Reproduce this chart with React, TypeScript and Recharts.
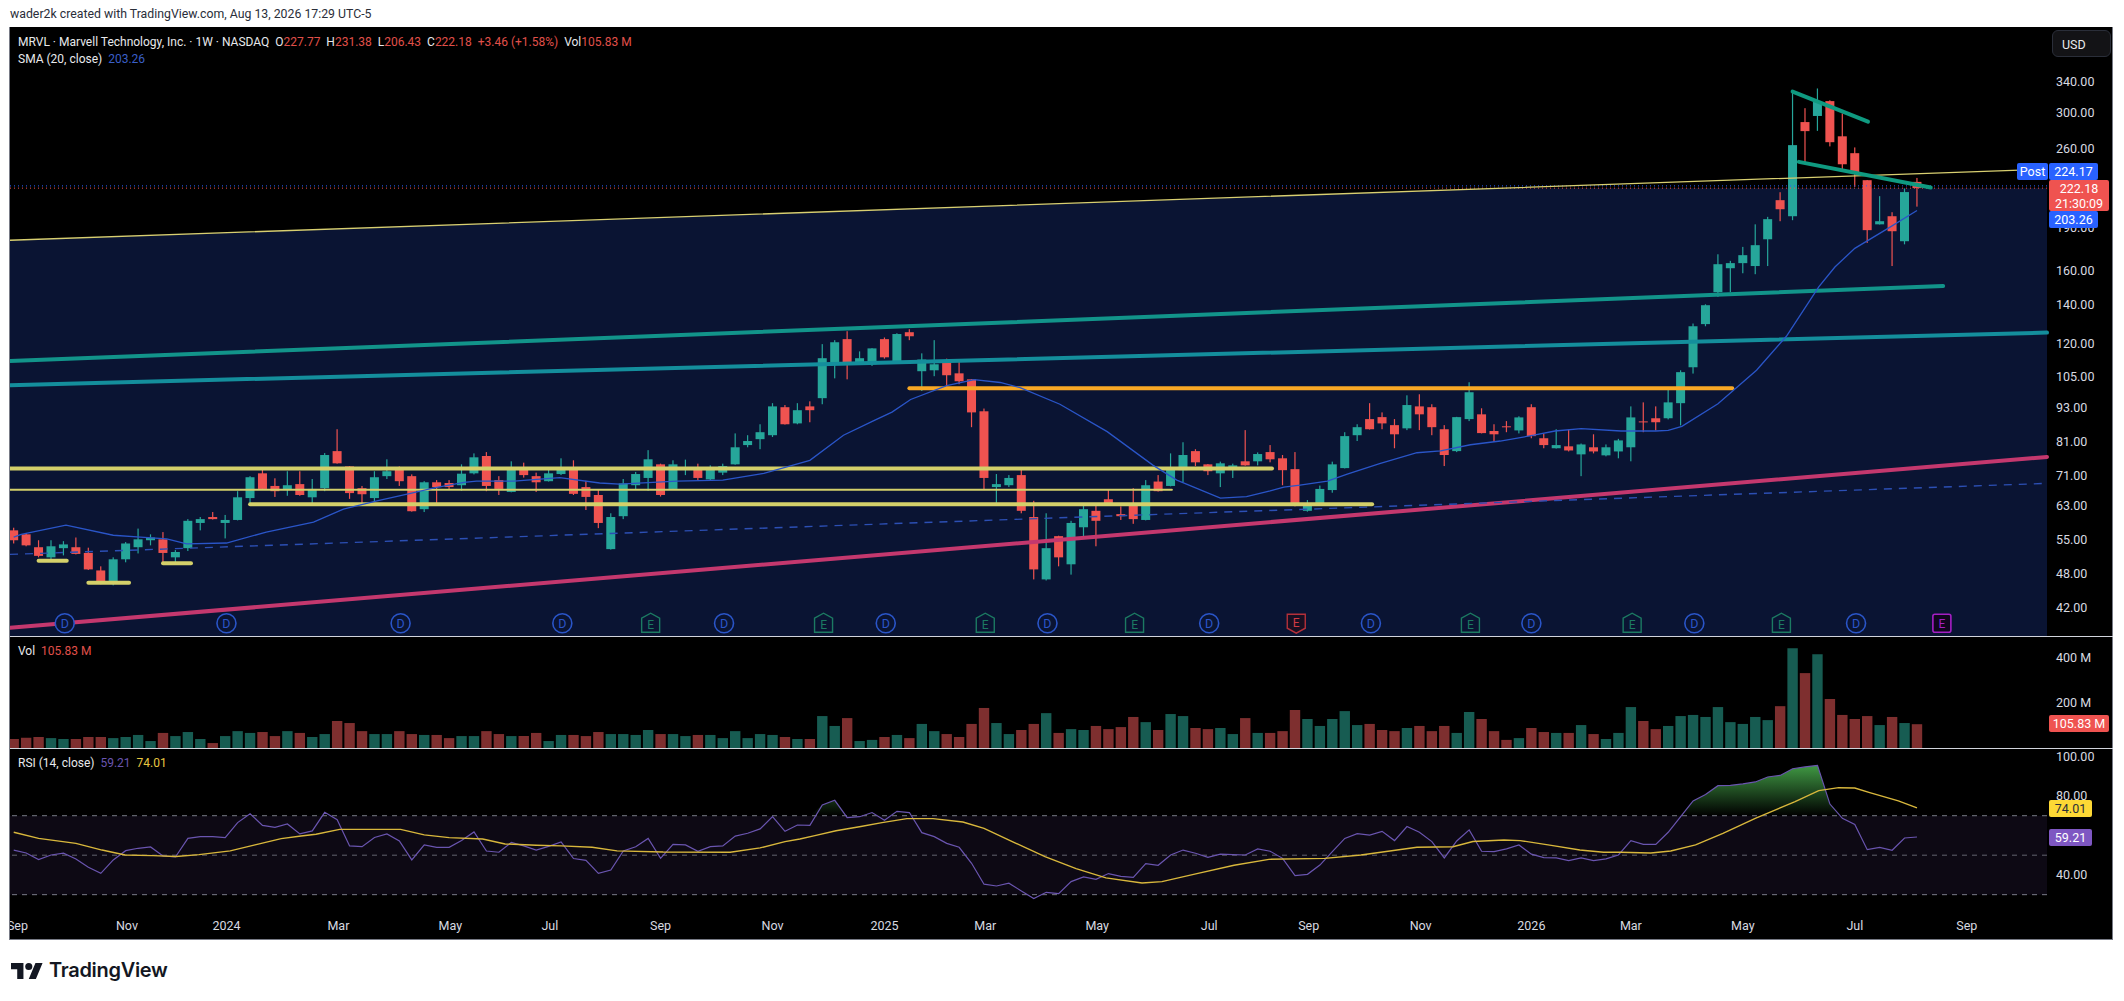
import { Area, Bar, Cell, ComposedChart, Line, ReferenceArea, ReferenceDot, ReferenceLine, XAxis, YAxis } from 'recharts';

const opens = [
    57.0, 56.1, 53.3, 51.2, 53.1, 53.3, 52.1, 48.6, 46.3, 50.8,
    53.3, 54.8, 55.0, 51.2, 53.1, 58.7, 60.1, 58.7, 59.4, 64.8,
    71.5, 68.0, 66.9, 68.5, 65.0, 67.4, 78.1, 73.5, 67.4, 64.8,
    70.7, 72.7, 70.7, 62.0, 69.0, 68.8, 68.2, 71.5, 76.6, 69.6,
    66.4, 73.0, 70.7, 69.3, 71.3, 73.3, 67.7, 65.6, 52.9, 60.3,
    68.2, 70.2, 74.1, 67.2, 72.9, 73.3, 69.8, 71.7, 74.1, 80.0,
    81.9, 83.2, 93.0, 87.2, 93.3, 96.4, 111.2, 121.9, 111.2, 110.3,
    121.9, 111.2, 125.3, 107.3, 107.7, 111.2, 106.4, 103.9, 91.5, 67.7,
    68.2, 71.0, 60.1, 46.9, 55.7, 49.8, 57.7, 61.6, 64.5, 60.8,
    62.9, 59.4, 69.2, 68.0, 72.4, 78.1, 74.1, 71.5, 73.1, 75.0,
    75.0, 77.8, 75.9, 72.7, 61.6, 63.3, 66.9, 73.0, 83.2, 88.7,
    89.4, 86.6, 85.5, 93.3, 93.0, 85.2, 78.1, 88.7, 90.4, 84.6,
    86.2, 84.8, 93.0, 82.2, 79.0, 79.6, 77.1, 79.3, 76.8, 78.0,
    79.3, 87.9, 89.0, 89.0, 94.5, 109.0, 129.4, 146.9, 161.6, 164.9,
    163.0, 181.3, 211.8, 198.7, 288.9, 296.0, 314.0, 273.0, 255.3, 229.3,
    192.4, 198.7, 179.9, 227.77,
];
const highs = [
    57.6, 56.4, 54.8, 54.8, 54.6, 55.4, 53.2, 49.4, 51.2, 54.4,
    57.4, 56.1, 56.6, 52.7, 59.6, 60.1, 61.3, 60.6, 66.6, 70.7,
    73.0, 70.1, 72.1, 72.1, 69.9, 77.5, 85.2, 73.6, 68.0, 72.1,
    75.6, 73.5, 71.2, 69.3, 69.6, 69.6, 74.1, 77.4, 77.8, 70.7,
    75.0, 74.6, 71.7, 72.7, 75.9, 75.3, 69.4, 66.9, 61.0, 69.9,
    71.9, 78.4, 74.3, 75.3, 75.5, 74.3, 73.8, 74.3, 83.8, 83.2,
    86.9, 94.5, 93.8, 94.5, 95.2, 119.5, 121.4, 125.8, 116.1, 117.6,
    122.7, 124.8, 126.8, 115.2, 121.4, 112.8, 111.8, 104.0, 92.5, 71.3,
    71.0, 72.9, 64.1, 61.0, 55.8, 59.2, 63.3, 62.9, 66.9, 62.7,
    67.4, 69.6, 71.0, 77.4, 80.9, 78.7, 74.2, 74.9, 74.3, 84.9,
    77.7, 80.0, 76.9, 77.8, 64.3, 68.1, 74.9, 84.2, 86.9, 94.5,
    91.1, 88.7, 97.5, 97.9, 94.1, 86.6, 89.5, 102.7, 92.6, 86.9,
    88.0, 89.7, 94.1, 83.7, 85.2, 85.1, 80.5, 83.5, 80.2, 82.0,
    93.3, 94.8, 93.3, 100.7, 107.7, 129.7, 140.0, 170.8, 166.4, 175.9,
    192.4, 198.2, 218.6, 324.6, 305.3, 330.2, 315.0, 299.0, 261.2, 229.5,
    215.2, 201.9, 221.9, 231.38,
];
const lows = [
    54.1, 53.5, 51.2, 50.6, 51.6, 51.8, 48.7, 46.0, 45.8, 50.2,
    52.0, 53.7, 50.2, 50.0, 52.5, 57.0, 59.5, 55.2, 59.3, 62.8,
    67.1, 65.1, 65.4, 65.4, 63.0, 66.6, 74.3, 64.6, 63.3, 63.8,
    69.9, 68.0, 61.4, 61.3, 62.8, 66.9, 66.7, 71.2, 66.6, 65.6,
    66.3, 70.3, 66.4, 69.2, 71.0, 65.6, 61.8, 57.5, 52.8, 59.6,
    67.1, 66.7, 65.2, 67.1, 71.0, 69.6, 69.6, 71.0, 74.0, 79.3,
    78.7, 82.6, 86.8, 86.9, 87.6, 94.1, 104.3, 103.9, 110.7, 109.6,
    112.8, 111.1, 121.4, 99.2, 105.2, 99.9, 101.9, 85.9, 66.9, 63.3,
    67.7, 61.0, 46.9, 46.7, 49.4, 47.8, 55.7, 53.5, 63.2, 59.4,
    58.5, 59.3, 66.5, 67.9, 69.0, 73.6, 71.0, 67.7, 70.2, 73.7,
    73.8, 74.7, 68.2, 62.7, 61.4, 62.9, 66.2, 72.9, 81.3, 85.1,
    85.2, 79.0, 84.9, 84.9, 83.2, 73.6, 77.8, 88.0, 83.8, 81.0,
    84.2, 83.8, 82.2, 79.0, 78.9, 78.0, 70.7, 77.4, 76.5, 75.9,
    75.0, 84.2, 84.8, 88.6, 86.5, 106.3, 128.3, 144.2, 146.9, 158.4,
    157.8, 163.0, 194.8, 195.6, 246.3, 279.0, 262.3, 237.7, 223.3, 178.7,
    192.3, 163.0, 177.7, 206.43,
];
const closes = [
    54.8, 53.7, 51.5, 53.5, 53.9, 51.9, 48.8, 46.5, 50.8, 54.1,
    55.0, 55.4, 52.1, 52.3, 59.2, 59.6, 59.6, 59.4, 65.0, 70.4,
    67.2, 66.6, 68.2, 65.6, 67.2, 76.9, 74.4, 66.1, 65.8, 70.4,
    72.1, 69.3, 61.5, 69.0, 67.7, 67.7, 71.4, 76.2, 68.0, 67.2,
    72.7, 71.0, 69.0, 71.5, 73.3, 65.9, 65.1, 58.7, 60.1, 68.7,
    71.3, 75.6, 65.6, 74.1, 73.2, 70.2, 73.0, 73.6, 79.3, 81.3,
    84.2, 93.3, 86.9, 91.9, 91.9, 113.0, 120.4, 110.8, 113.0, 117.5,
    113.4, 124.4, 123.3, 112.4, 110.3, 105.6, 103.1, 91.1, 70.2, 68.5,
    70.2, 61.6, 48.8, 53.1, 51.2, 58.7, 62.0, 59.2, 63.3, 60.3,
    59.6, 68.2, 66.6, 73.3, 76.9, 74.7, 72.1, 74.4, 73.8, 73.8,
    77.2, 75.6, 72.4, 62.9, 63.1, 67.2, 74.1, 82.9, 85.9, 85.2,
    87.2, 83.5, 93.8, 90.4, 85.9, 76.9, 89.4, 98.7, 83.9, 83.5,
    85.9, 89.3, 82.9, 80.0, 80.0, 78.3, 80.2, 78.0, 79.3, 81.5,
    89.3, 87.6, 87.6, 94.8, 106.9, 128.3, 139.5, 164.2, 164.9, 170.2,
    177.1, 196.4, 204.3, 263.6, 278.7, 313.1, 266.7, 244.3, 235.8, 188.0,
    194.8, 187.2, 218.72, 222.18,
];
const volumes = [
    40, 46, 49, 44, 40, 40, 49, 49, 44, 49,
    58, 31, 67, 53, 71, 40, 22, 53, 75, 67,
    71, 53, 75, 67, 49, 62, 120, 111, 75, 62,
    62, 75, 62, 58, 58, 44, 53, 53, 75, 62,
    53, 53, 67, 31, 58, 58, 53, 71, 62, 62,
    58, 80, 62, 62, 53, 58, 58, 44, 75, 44,
    62, 58, 49, 40, 40, 142, 98, 133, 31, 36,
    49, 58, 44, 107, 75, 62, 49, 107, 178, 111,
    62, 80, 107, 155, 67, 84, 80, 98, 84, 93,
    138, 115, 80, 151, 142, 89, 84, 89, 62, 133,
    67, 67, 75, 169, 129, 98, 129, 164, 102, 107,
    80, 75, 89, 98, 75, 98, 67, 160, 129, 75,
    36, 44, 89, 71, 67, 67, 102, 62, 40, 67,
    182, 120, 84, 98, 142, 147, 138, 182, 115, 107,
    138, 124, 186, 444, 333, 417, 218, 147, 129, 142,
    102, 138, 111, 105.83,
];
const rsiValues = [
    52.6, 51.1, 47.8, 50.1, 51.0, 48.1, 43.9, 40.8, 47.6, 52.3,
    53.5, 54.2, 49.6, 49.1, 58.5, 59.4, 59.4, 58.9, 66.5, 71.0,
    65.1, 64.1, 65.8, 60.8, 62.3, 71.7, 68.0, 54.7, 54.3, 59.0,
    60.8, 57.2, 47.6, 55.2, 54.0, 54.0, 57.4, 61.8, 52.1, 51.5,
    56.5, 54.7, 52.6, 54.5, 56.7, 48.3, 47.4, 40.8, 42.5, 52.1,
    54.3, 58.5, 48.4, 55.5, 55.2, 52.0, 54.3, 54.7, 59.7, 61.1,
    63.3, 69.5, 62.1, 65.3, 65.1, 75.4, 77.8, 69.0, 69.5, 71.6,
    67.7, 72.2, 71.6, 61.4, 59.4, 56.0, 54.0, 45.9, 35.3, 34.4,
    35.8, 31.9, 28.0, 31.2, 30.5, 36.6, 39.0, 37.8, 40.7, 39.3,
    38.8, 45.7, 44.9, 50.1, 52.6, 51.0, 48.9, 50.5, 50.3, 50.1,
    53.2, 52.0, 48.4, 39.6, 40.3, 45.0, 51.8, 58.5, 60.9, 60.2,
    62.1, 57.4, 64.5, 61.6, 56.9, 48.6, 57.2, 62.8, 52.0, 51.8,
    53.2, 55.2, 50.5, 48.8, 48.6, 47.3, 48.6, 47.3, 48.1, 50.1,
    57.4, 55.5, 55.5, 61.6, 69.5, 77.5, 80.7, 85.2, 85.4, 86.1,
    87.1, 89.6, 90.4, 93.8, 94.7, 95.5, 75.9, 68.7, 65.6, 52.8,
    54.0, 52.5, 58.7, 59.21,
];

// week index, value pairs read at the bends of the smoothed lines
const smaWeeks = [
    0, 0.6, 4.2, 8, 10.2, 12.3, 13.9, 17.1, 20.3, 24.1, 26.5, 29.2, 31.9, 33.8, 36.2, 37.2, 40.2, 43.9, 47.1, 48.7,
    53.3, 57, 60.3, 64, 66.7, 69.1, 70.6, 72.1, 75, 77.2, 79.3, 80.9, 84.1, 87.9, 91.6, 93.5, 97, 99.1, 101, 102.1,
    103.4, 105.6, 107.2, 109.8, 112.8, 114.7, 117.1, 119.5, 122.2, 123.9, 126, 129.2, 132, 133, 134.1, 137, 140.1, 142.5, 145.1, 146.4,
    148, 150.7, 153,
];
const smaValues = [
    55.5, 56.1, 58.2, 55.9, 55.5, 55.1, 54.0, 54.2, 56.6, 58.9, 62.0, 64.1, 66.0, 67.5, 69.0, 69.3, 69.3, 70.3, 68.8, 68.5,
    69.3, 69.6, 71.5, 75.3, 83.2, 88.1, 91.2, 95.9, 101.3, 103.8, 102.6, 100.5, 94.1, 84.4, 73.8, 69.6, 64.8, 65.2, 66.7, 67.7,
    68.2, 69.3, 71.3, 74.3, 77.6, 78.2, 80.1, 81.3, 83.2, 84.6, 85.4, 84.6, 84.6, 84.8, 86.2, 94.3, 107.7, 123.3, 150, 162.4,
    174.9, 189.5, 203.26,
];
const rsiMaWeeks = [
    0, 2, 5, 7.1, 8.95, 11.2, 13.05, 14.9, 17.4, 19.4, 21.5, 23.1, 24.3, 26.2, 27.6, 31.1, 33, 35, 37.7, 39.5,
    42, 44, 46.5, 48.5, 52.2, 57.6, 60, 62, 63.2, 64.4, 66.1, 68.1, 69.8, 71.8, 73.9, 76.3, 78, 80.4, 82.9, 85.4,
    87.8, 90.7, 92.3, 95.2, 98.1, 100.9, 105.4, 108.3, 112.8, 115.7, 117.3, 119.8, 121.1, 123.6, 125.9, 127.8, 129.1, 131.6, 133.2, 135.2,
    137.4, 140, 143.2, 145.1, 146.7, 148, 149.2, 151.5, 153,
];
const rsiMaValues = [
    61.6, 58.5, 56.0, 52.6, 50.1, 49.8, 49.3, 50.3, 52.2, 55.2, 58.4, 59.7, 60.6, 63.1, 63.1, 63.1, 60.3, 58.9, 58.2, 55.7,
    55.0, 54.7, 54.0, 52.2, 51.6, 51.5, 53.7, 56.9, 58.2, 59.9, 62.4, 64.5, 66.5, 68.5, 68.5, 66.8, 63.6, 56.5, 49.3, 43.2,
    38.5, 35.9, 36.6, 40.8, 44.9, 47.9, 48.4, 50.1, 54.0, 54.3, 56.9, 57.7, 57.4, 55.0, 52.6, 51.5, 51.5, 51.1, 52.1, 55.2,
    61.1, 68.7, 77.1, 82.7, 84.2, 84.0, 81.7, 77.5, 74.01,
];

const priceTicks = [340, 300, 260, 190, 160, 140, 120, 105, 93, 81, 71, 63, 55, 48, 42];
const volumeTicks = [400, 200];
const rsiTicks = [100, 80, 40];
const monthWeeks = [0.3, 9.1, 17.1, 26.1, 35.1, 43.1, 52, 61, 70, 78.1, 87.1, 96.1, 104.1, 113.1, 122, 130, 139, 148, 157];
const monthLabels = ['Sep', 'Nov', '2024', 'Mar', 'May', 'Jul', 'Sep', 'Nov', '2025', 'Mar', 'May', 'Jul', 'Sep', 'Nov', '2026', 'Mar', 'May', 'Jul', 'Sep'];

const dividendWeeks = [4.1, 17.1, 31.1, 44.1, 57.1, 70.1, 83.1, 96.1, 109.1, 122, 135.1, 148.1];
const earningsWeeks = [51.2, 65.1, 78.1, 90.1, 117.1, 130.1, 142.1];
const missedEarningsWeeks = [103.1];
const nextEarningsWeeks = [155];
const markerPrice = 39.4;

// [week, price, week, price]
const channelTop = [-0.3, 180.6, 163.45, 239.6];
const tealUpper = [-0.3, 111.7, 155.1, 150.6];
const tealLower = [-0.3, 101.5, 163.45, 125.1];
const pinkTrend = [-0.3, 38.7, 163.45, 76.3];
const dashedTrend = [-0.3, 51.8, 163.45, 68.7];
const yellowThinLevel = [-0.3, 67.0, 93.1, 67.0];
const yellowLevels = [
    [-0.3, 72.9, 101.15, 72.9],
    [19.0, 63.2, 109.2, 63.2],
    [2.0, 50.5, 4.26, 50.5],
    [6.0, 46.3, 9.27, 46.3],
    [12.0, 50.0, 14.25, 50.0],
];
const orangeLevel = [72.0, 100.3, 138.15, 100.3];
const peakUpper = [143, 326.2, 149.06, 289.3];
const peakLower = [143.5, 246.6, 154.1, 222.7];

const weekDomain = [-0.3, 163.45];
const priceDomain = [37.45, 421.6];
const navyTopWeeks = [-0.3, 119.8, 163.45];
const navyTopPrices = [180.6, 222.18, 222.18];

const candles = opens.map((open, i) => ({
    week: i,
    open,
    high: highs[i],
    low: lows[i],
    close: closes[i],
    range: [lows[i], highs[i]],
    up: closes[i] >= open,
    volume: volumes[i],
    rsi: rsiValues[i],
    overbought: [70, Math.max(70, rsiValues[i])],
}));
const smaLine = smaWeeks.map((week, i) => ({ week, value: smaValues[i] }));
const rsiMaLine = rsiMaWeeks.map((week, i) => ({ week, value: rsiMaValues[i] }));
const navyBand = navyTopWeeks.map((week, i) => ({ week, band: [priceDomain[0], navyTopPrices[i]] }));

const GREEN = '#26a69a';
const RED = '#ef5350';
const FONT = 'Roboto, sans-serif';
const PANE_WIDTH = 2103;
const AXIS_WIDTH = 66;
const BODY_WIDTH = 9;
const axisTick = { fill: '#d8dae0', fontSize: 12.5, fontFamily: FONT };

const trend = (seg: number[], stroke: string, strokeWidth: number, key: string, dash?: string) => (
    <ReferenceLine
        key={key}
        segment={[{ x: seg[0], y: seg[1] }, { x: seg[2], y: seg[3] }]}
        stroke={stroke}
        strokeWidth={strokeWidth}
        strokeDasharray={dash}
        strokeLinecap={dash ? 'butt' : 'round'}
        ifOverflow="visible"
    />
);

// the bar covers low..high on the log axis, the body is placed inside that span.
// width from recharts shrinks because the SMA weeks are fractional, so only its centre is used
const CandleShape = ({ x, y, width, height, payload }: any) => {
    const { open, high, low, close, up } = payload;
    const span = Math.log(high / low);
    const atPrice = (p: number) => y + (height * Math.log(high / p)) / span;
    const top = atPrice(Math.max(open, close));
    const bottom = atPrice(Math.min(open, close));
    const centre = x + width / 2;
    const fill = up ? GREEN : RED;
    return (
        <g>
            <rect x={centre - 0.6} y={y} width={1.2} height={height} fill={fill} />
            <rect x={centre - BODY_WIDTH / 2} y={top} width={BODY_WIDTH} height={Math.max(bottom - top, 1)} fill={fill} />
        </g>
    );
};

const CircleMark = ({ cx, cy }: any) => (
    <g>
        <circle cx={cx} cy={cy} r={9.5} fill="#0a1433" stroke="#2a55c8" strokeWidth={1.6} />
        <text x={cx} y={cy + 4.5} textAnchor="middle" fontSize={12.5} fontFamily={FONT} fill="#2a55c8">D</text>
    </g>
);
const HouseMark = ({ cx, cy }: any) => (
    <g>
        <path d={`M${cx - 9} ${cy - 5}L${cx} ${cy - 10}L${cx + 9} ${cy - 5}V${cy + 9}H${cx - 9}Z`} fill="#0a1433" stroke="#1c7a62" strokeWidth={1.4} />
        <text x={cx} y={cy + 6} textAnchor="middle" fontSize={12} fontFamily={FONT} fill="#1c7a62">E</text>
    </g>
);
const MissMark = ({ cx, cy }: any) => (
    <g>
        <path d={`M${cx - 9} ${cy - 9}H${cx + 9}V${cy + 5}L${cx} ${cy + 10}L${cx - 9} ${cy + 5}Z`} fill="#1a0f22" stroke="#b5303a" strokeWidth={1.4} />
        <text x={cx} y={cy + 4} textAnchor="middle" fontSize={12} fontFamily={FONT} fill="#d23a44">E</text>
    </g>
);
const NextMark = ({ cx, cy }: any) => (
    <g>
        <rect x={cx - 9} y={cy - 9} width={18} height={18} rx={2} fill="#10061e" stroke="#a41fc4" strokeWidth={1.6} />
        <text x={cx} y={cy + 4.5} textAnchor="middle" fontSize={12} fontFamily={FONT} fill="#a41fc4">E</text>
    </g>
);

const PriceTag = ({ top, left = 2049, width, height = 17, bg, color = '#fff', children }: any) => (
    <div style={{ position: 'absolute', top, left, width, height, lineHeight: `${height}px`, background: bg, color, fontFamily: FONT, fontSize: 12.5, textAlign: 'center', borderRadius: 2 }}>
        {children}
    </div>
);

const redVal = { color: '#e0504a' };

const App = () => (
    <div style={{ position: 'absolute', left: 0, top: 0, width: 2124, height: 1001, background: '#fff', overflow: 'hidden' }}>
        <div style={{ position: 'absolute', left: 10, top: 7, fontFamily: FONT, fontSize: 12.3, color: '#2a2e39', whiteSpace: 'nowrap' }}>
            wader2k created with TradingView.com, Aug 13, 2026 17:29 UTC-5
        </div>
        <div style={{ position: 'absolute', left: 9, top: 27, width: 2104, height: 913, background: '#000', borderLeft: '1px solid #787b86', borderRight: '1px solid #787b86', borderBottom: '1px solid #787b86', boxSizing: 'border-box' }} />

        <div style={{ position: 'absolute', left: 10, top: 27 }}>
            <ComposedChart width={PANE_WIDTH} height={609} data={candles} margin={{ top: 0, right: 0, bottom: 0, left: 0 }}>
                <XAxis type="number" dataKey="week" domain={weekDomain} allowDataOverflow hide />
                <YAxis orientation="right" width={AXIS_WIDTH} scale="log" domain={priceDomain} allowDataOverflow ticks={priceTicks} interval={0} tick={axisTick} tickSize={0} tickMargin={9} axisLine={false} tickLine={false} tickFormatter={(v: number) => v.toFixed(2)} />
                <Area data={navyBand} dataKey="band" type="linear" fill="#0a1433" fillOpacity={1} stroke="none" dot={false} activeDot={false} isAnimationActive={false} />
                {trend(tealUpper, '#12948a', 4, 'tealUpper')}
                {trend(tealLower, '#148e9c', 4, 'tealLower')}
                {trend(pinkTrend, '#c4386e', 4, 'pink')}
                {trend(dashedTrend, '#2c4fb4', 1.4, 'dashed', '8 7')}
                {trend(yellowThinLevel, '#d4d06a', 2, 'yellowThin')}
                {yellowLevels.map((seg, i) => trend(seg, '#d4d06a', 4, `yellow${i}`))}
                {trend(orangeLevel, '#f9a825', 4, 'orange')}
                <ReferenceLine y={224.17} stroke="#2962ff" strokeDasharray="1 3" ifOverflow="visible" />
                <ReferenceLine y={222.18} stroke="#ef5350" strokeDasharray="1 3" ifOverflow="visible" />
                {trend(channelTop, '#d8cf70', 1.3, 'channelTop')}
                <Bar dataKey="range" barSize={BODY_WIDTH} shape={CandleShape} isAnimationActive={false} />
                {trend(peakUpper, '#0f9a80', 4, 'peakUpper')}
                {trend(peakLower, '#0f9a80', 4, 'peakLower')}
                <Line data={smaLine} dataKey="value" type="linear" stroke="#2a55c8" strokeWidth={1.3} dot={false} activeDot={false} isAnimationActive={false} />
                {dividendWeeks.map((w) => <ReferenceDot key={`d${w}`} x={w} y={markerPrice} shape={CircleMark} ifOverflow="visible" />)}
                {earningsWeeks.map((w) => <ReferenceDot key={`e${w}`} x={w} y={markerPrice} shape={HouseMark} ifOverflow="visible" />)}
                {missedEarningsWeeks.map((w) => <ReferenceDot key={`m${w}`} x={w} y={markerPrice} shape={MissMark} ifOverflow="visible" />)}
                {nextEarningsWeeks.map((w) => <ReferenceDot key={`n${w}`} x={w} y={markerPrice} shape={NextMark} ifOverflow="visible" />)}
            </ComposedChart>
        </div>

        <div style={{ position: 'absolute', left: 10, top: 636 }}>
            <ComposedChart width={PANE_WIDTH} height={112} data={candles} margin={{ top: 0, right: 0, bottom: 0, left: 0 }}>
                <XAxis type="number" dataKey="week" domain={weekDomain} allowDataOverflow hide />
                <YAxis orientation="right" width={AXIS_WIDTH} domain={[0, 498]} allowDataOverflow ticks={volumeTicks} interval={0} tick={axisTick} tickSize={0} tickMargin={9} axisLine={false} tickLine={false} tickFormatter={(v: number) => `${v} M`} />
                <Bar dataKey="volume" barSize={10.4} isAnimationActive={false}>
                    {candles.map((c) => <Cell key={c.week} fill={c.up ? '#175c52' : '#7e2f2f'} />)}
                </Bar>
            </ComposedChart>
        </div>

        <div style={{ position: 'absolute', left: 10, top: 748 }}>
            <ComposedChart width={PANE_WIDTH} height={192} data={candles} margin={{ top: 0, right: 0, bottom: 0, left: 0 }}>
                <defs>
                    <linearGradient id="overboughtFill" x1="0" y1="0" x2="0" y2="1">
                        <stop offset="0%" stopColor="#43a047" stopOpacity={0.95} />
                        <stop offset="100%" stopColor="#43a047" stopOpacity={0} />
                    </linearGradient>
                </defs>
                <XAxis type="number" dataKey="week" domain={weekDomain} allowDataOverflow height={25} ticks={monthWeeks} interval={0} tick={axisTick} tickSize={0} tickMargin={6} axisLine={false} tickLine={false} tickFormatter={(v: number) => monthLabels[monthWeeks.indexOf(v)]} />
                <YAxis orientation="right" width={AXIS_WIDTH} domain={[19.7, 104.3]} allowDataOverflow ticks={rsiTicks} interval={0} tick={axisTick} tickSize={0} tickMargin={9} axisLine={false} tickLine={false} tickFormatter={(v: number) => v.toFixed(2)} />
                <ReferenceArea y1={30} y2={70} fill="#7e57c2" fillOpacity={0.1} stroke="none" ifOverflow="visible" />
                <ReferenceLine y={70} stroke="#787b86" strokeDasharray="5 5" />
                <ReferenceLine y={50} stroke="#787b86" strokeOpacity={0.8} strokeDasharray="5 5" />
                <ReferenceLine y={30} stroke="#787b86" strokeDasharray="5 5" />
                <Area dataKey="overbought" type="linear" fill="url(#overboughtFill)" fillOpacity={1} stroke="none" dot={false} activeDot={false} isAnimationActive={false} />
                <Line dataKey="rsi" type="linear" stroke="#6a55b0" strokeWidth={1.2} dot={false} activeDot={false} isAnimationActive={false} />
                <Line data={rsiMaLine} dataKey="value" type="linear" stroke="#d8b73c" strokeWidth={1.4} dot={false} activeDot={false} isAnimationActive={false} />
            </ComposedChart>
        </div>

        <div style={{ position: 'absolute', left: 10, top: 636, width: 2103, height: 1, background: '#d1d4dc' }} />
        <div style={{ position: 'absolute', left: 10, top: 748, width: 2103, height: 1, background: '#d1d4dc' }} />

        <div style={{ position: 'absolute', left: 18, top: 35, fontFamily: FONT, fontSize: 12, color: '#e8e9ec', whiteSpace: 'nowrap' }}>
            MRVL · Marvell Technology, Inc. · 1W · NASDAQ&nbsp; O<span style={redVal}>227.77</span>&nbsp; H<span style={redVal}>231.38</span>&nbsp; L<span style={redVal}>206.43</span>&nbsp; C<span style={redVal}>222.18</span>&nbsp; <span style={redVal}>+3.46 (+1.58%)</span>&nbsp; Vol<span style={redVal}>105.83 M</span>
        </div>
        <div style={{ position: 'absolute', left: 18, top: 52, fontFamily: FONT, fontSize: 12, color: '#e8e9ec', whiteSpace: 'nowrap' }}>
            SMA (20, close)&nbsp; <span style={{ color: '#3a5fc8' }}>203.26</span>
        </div>
        <div style={{ position: 'absolute', left: 18, top: 644, fontFamily: FONT, fontSize: 12, color: '#e8e9ec', whiteSpace: 'nowrap' }}>
            Vol&nbsp; <span style={redVal}>105.83 M</span>
        </div>
        <div style={{ position: 'absolute', left: 18, top: 756, fontFamily: FONT, fontSize: 12, color: '#e8e9ec', whiteSpace: 'nowrap' }}>
            RSI (14, close)&nbsp; <span style={{ color: '#6a55b0' }}>59.21</span>&nbsp; <span style={{ color: '#e8c640' }}>74.01</span>
        </div>

        <div style={{ position: 'absolute', left: 2052, top: 30, width: 59, height: 27, lineHeight: '27px', boxSizing: 'border-box', border: '1px solid #2a2e39', borderRadius: 6, background: '#131316', color: '#e8e9ec', fontFamily: FONT, fontSize: 12.5, paddingLeft: 9 }}>USD</div>

        <PriceTag top={163} left={2017} width={31} bg="#2962ff">Post</PriceTag>
        <PriceTag top={163} width={49} bg="#2962ff">224.17</PriceTag>
        <PriceTag top={180} width={60} height={31} bg="#ef5350">
            <div style={{ lineHeight: '15px', paddingTop: 1 }}>222.18<br />21:30:09</div>
        </PriceTag>
        <PriceTag top={211} width={49} bg="#2962ff">203.26</PriceTag>
        <PriceTag top={715} width={60} bg="#ef5350">105.83 M</PriceTag>
        <PriceTag top={800} width={43} bg="#fdd835" color="#2a2e39">74.01</PriceTag>
        <PriceTag top={829} width={43} bg="#7e57c2">59.21</PriceTag>

        <svg style={{ position: 'absolute', left: 11, top: 961 }} width={32} height={20} viewBox="0 0 36 22">
            <path d="M14 20H7V9H0V2h14v18zM28 20h-8l7.5-18h8L28 20z" fill="#131722" />
            <circle cx="20" cy="6" r="4" fill="#131722" />
        </svg>
        <div style={{ position: 'absolute', left: 49, top: 958, fontFamily: 'Inter, sans-serif', fontWeight: 600, fontSize: 20, color: '#131722', letterSpacing: '-0.3px' }}>TradingView</div>
    </div>
);

export default App;
